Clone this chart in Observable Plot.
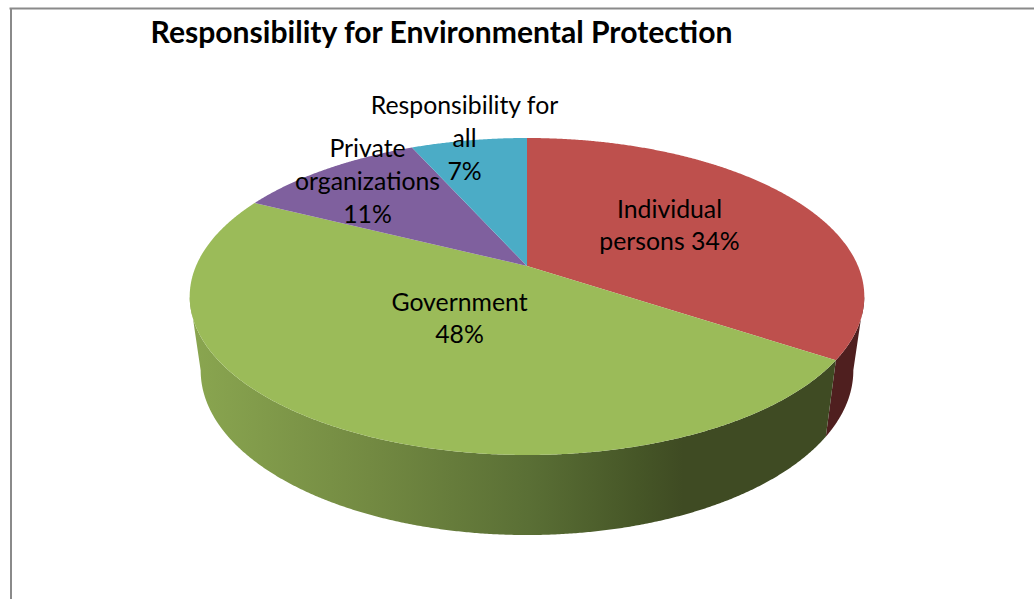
<!DOCTYPE html>
<html>
<head>
<meta charset="utf-8">
<script src="https://cdn.jsdelivr.net/npm/d3@7"></script>
<script src="https://cdn.jsdelivr.net/npm/@observablehq/plot@0.6"></script>
<style>
html,body{margin:0;padding:0;background:#fff;overflow:hidden}
svg{display:block}
</style>
</head>
<body>
<div id="chart"></div>
<script>
const chartTitle = "Responsibility for Environmental Protection";
const categories = ["Individual persons", "Government", "Private organizations", "Responsibility for all"];
const shares = [34.3, 48.1, 10.9, 6.7];
const labelLines = ["Individual\npersons 34%", "Government\n48%", "Private\norganizations\n11%", "Responsibility for\nall\n7%"];

const topFills = ["#be504d", "#9bbb59", "#7f609e", "#4bacc6"];
const wallFills = ["#4f1f1f", "url(#greenWall)", "#7f609e", "#4bacc6"];
const labelAt = [[669, 223], [459, 316], [367, 179], [464, 136]];

// Perspective view of the pie disc
const W = 1034, H = 599;
const cx = 527, apexY = 266, R = 331, c = 0.1924, a = -101.45;
const topE = {cy: 296, rx: 338, ry: 158};
const botE = {cy: 370, rx: 327, ry: 164};

function rim(f) {
  const t = 2 * Math.PI * f, u = Math.sin(t), v = Math.cos(t), d = c * v + 1;
  return [cx + R * u / d, (a * v + apexY) / d];
}
function floor([x, y]) {
  return [cx + botE.rx * (x - cx) / topE.rx, botE.cy + botE.ry * (y - topE.cy) / topE.ry];
}

let acc = 0;
const slices = shares.map((s, i) => {
  const start = acc / 100; acc += s; const end = acc / 100;
  const n = Math.ceil(s * 12);
  const fr = d3.range(n + 1).map(k => start + (end - start) * k / n);
  return {i, name: categories[i], start, end, fr};
});

const fanRows = slices.flatMap(sl => sl.fr.map(f => {
  const [x, y] = rim(f);
  return {i: sl.i, x, y, ax: cx, ay: apexY};
}));
const wallRows = slices.flatMap(sl => sl.fr
  .map(f => rim(f))
  .filter(p => p[1] >= topE.cy)
  .map(p => {
    const q = floor(p);
    return {i: sl.i, x1: p[0], y1: p[1], x2: q[0], y2: q[1]};
  }));

const labelRows = labelLines.map((t, i) => ({t, x: labelAt[i][0], y: labelAt[i][1]}));

const defsMark = () => {
  const svgNS = "http://www.w3.org/2000/svg";
  const defs = document.createElementNS(svgNS, "defs");
  defs.innerHTML = `<linearGradient id="greenWall" gradientUnits="userSpaceOnUse" x1="190" y1="0" x2="830" y2="0">
    <stop offset="0" stop-color="#8aa650"/>
    <stop offset="0.28" stop-color="#738a42"/>
    <stop offset="0.53" stop-color="#5a6f35"/>
    <stop offset="0.70" stop-color="#465627"/>
    <stop offset="0.77" stop-color="#3f4b23"/>
    <stop offset="1" stop-color="#3f4b23"/>
  </linearGradient>`;
  return defs;
};

const plot = Plot.plot({
  width: W, height: H, margin: 0,
  x: {domain: [0, W], range: [0, W], axis: null},
  y: {domain: [0, H], range: [0, H], axis: null},
  style: {background: "#fff", fontFamily: "Lato, sans-serif"},
  marks: [
    defsMark,
    Plot.ruleY([8], {x1: 9.5, x2: W, stroke: "#8a8a8a", strokeWidth: 2}),
    Plot.ruleX([10.5], {y1: 8, y2: H, stroke: "#8a8a8a", strokeWidth: 2}),
    ...[0, 1].map(i => Plot.area(wallRows.filter(d => d.i === i), {
      x1: "x1", y1: "y1", x2: "x2", y2: "y2", fill: wallFills[i]
    })),
    ...slices.map(sl => Plot.area(fanRows.filter(d => d.i === sl.i), {
      x1: "ax", y1: "ay", x2: "x", y2: "y", fill: topFills[sl.i]
    })),
    Plot.text(labelRows, {
      x: "x", y: "y", text: "t", fontSize: 24.8, lineHeight: 1.32, fill: "#000", textAnchor: "middle"
    }),
    Plot.text([chartTitle], {
      x: () => 441, y: () => 33, fontSize: 30.1, fontWeight: 700, fill: "#000", textAnchor: "middle"
    })
  ]
});
document.getElementById("chart").append(plot);
</script>
</body>
</html>
